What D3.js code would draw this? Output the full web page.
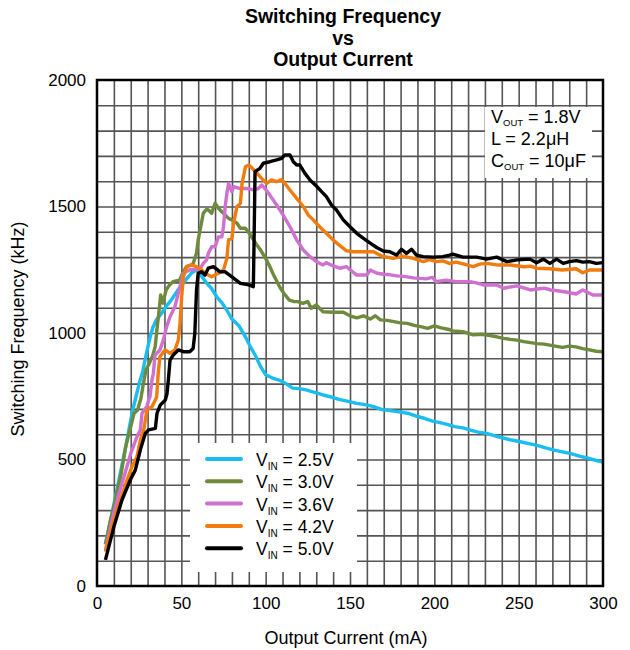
<!DOCTYPE html>
<html>
<head>
<meta charset="utf-8">
<script src="https://cdn.jsdelivr.net/npm/d3@7"></script>
<style>
  body { margin: 0; background: #fff; }
  svg { font-family: "Liberation Sans", Arial, sans-serif; }
</style>
</head>
<body>
<svg id="chart" width="630" height="650"></svg>
<script>
// ---- data ----
var xTicks = [0, 50, 100, 150, 200, 250, 300];
var yTicks = [0, 500, 1000, 1500, 2000];
var seriesNames = ["2.5V", "3.0V", "3.6V", "4.2V", "5.0V"];
var seriesColors = ["#19bdf0", "#6e8b3d", "#d070d0", "#f27b0e", "#000000"];

// [output current mA, switching frequency kHz]
var vin25 = [[5,165],[9,290],[13,420],[17,550],[21,690],[23,745],[25,800],[27,845],[29,910],[31,970],[33,1020],[35,1050],[38,1075],[41,1105],[44,1130],[48,1170],[52,1205],[56,1237],[59,1250],[62,1225],[65,1197],[68,1175],[71,1143],[74,1120],[77,1090],[80,1055],[84,1030],[88,985],[91,945],[94,910],[97,867],[100,835],[104,822],[108,814],[112,800],[116,782],[120,780],[124,775],[129,765],[134,755],[139,747],[144,737],[149,730],[154,722],[159,717],[164,709],[169,697],[174,693],[179,688],[184,683],[189,672],[194,663],[199,652],[204,645],[208,638],[212,630],[217,625],[222,615],[226,608],[231,603],[235,595],[239,588],[245,578],[251,570],[256,563],[261,556],[266,546],[271,537],[276,530],[281,523],[286,513],[290,507],[295,498],[300,490]];

var vin30 = [[5,165],[8,260],[10,313],[12,375],[14,432],[17,550],[20,630],[22,683],[24,695],[26,740],[27.5,800],[29,854],[31,880],[33,910],[34.5,946],[35.5,1012],[37,1100],[37.7,1150],[39,1118],[41,1170],[43,1190],[45,1203],[49,1209],[51,1240],[53,1262],[56,1269],[57,1275],[59,1315],[60,1368],[61.5,1420],[63,1473],[65,1490],[66,1486],[68,1473],[70,1513],[72,1493],[75,1473],[78,1453],[80,1447],[83,1434],[85,1414],[88,1414],[91,1387],[94,1355],[97,1328],[100,1295],[102.5,1262],[105,1225],[108.5,1180],[111,1155],[114,1130],[117,1124],[119,1124],[122,1117],[125,1124],[127,1098],[130,1111],[134,1084],[140,1082],[146,1082],[150,1068],[154,1060],[158,1068],[162,1055],[165,1068],[168,1052],[172,1050],[176,1045],[180,1040],[184,1038],[188,1030],[192,1025],[196,1018],[200,1028],[204,1020],[208,1015],[211,1008],[217,1005],[223,993],[228,995],[233,990],[237,985],[241,979],[245,975],[249,972],[253,966],[257,962],[261,958],[265,956],[270,950],[276,943],[280,948],[284,945],[288,938],[292,933],[296,928],[300,926]];

var vin36 = [[5,142],[9,261],[13,366],[16,432],[20,524],[23.7,590],[25.7,617],[26.7,683],[29.6,709],[30.6,735],[31.4,748],[32.6,814],[33.4,841],[34.4,913],[37.3,933],[39.3,972],[41.3,1025],[43.3,1064],[46.2,1104],[48.2,1157],[51.2,1236],[55,1250],[61,1252],[63,1275],[65,1289],[66,1315],[68,1341],[70,1341],[72,1380],[74,1380],[75,1420],[76,1500],[77,1552],[78,1591],[80,1558],[81,1578],[85,1571],[90,1571],[93,1565],[95.6,1571],[97.6,1585],[99.6,1571],[102.5,1545],[106.5,1506],[110.4,1466],[114.4,1420],[118.4,1368],[122.3,1328],[126.3,1302],[130.2,1282],[134,1269],[136,1278],[140,1265],[144,1256],[148,1262],[151,1245],[154,1229],[160,1229],[162,1249],[166,1236],[170,1232],[174,1230],[178,1226],[182,1224],[187.5,1218],[191,1216],[195,1214],[199,1220],[201,1203],[207,1209],[213,1203],[221,1203],[225,1198],[229,1190],[237,1190],[241,1177],[245,1182],[249,1186],[253,1178],[257,1170],[261,1174],[265,1177],[269,1170],[273,1167],[278,1162],[284,1154],[288,1170],[294,1150],[300,1150]];

var vin42 = [[5,136],[10,261],[13.8,340],[17.8,419],[20.7,471],[23.7,511],[25.7,577],[27.7,617],[29.6,696],[32.6,709],[34.6,735],[35.4,748],[36.3,841],[37.3,906],[40.3,933],[43.3,920],[46.2,933],[48.2,972],[49.2,1038],[50.2,1143],[51.2,1222],[53.2,1262],[56,1269],[59,1262],[61,1255],[65,1232],[68,1222],[72,1236],[75,1249],[77,1295],[78,1368],[80,1374],[81,1434],[83,1500],[85,1512],[86,1591],[88,1657],[90,1664],[92,1651],[95,1631],[97.6,1611],[100.6,1591],[103.5,1605],[106.5,1598],[109.5,1607],[111.4,1591],[114.4,1565],[118.4,1532],[122.3,1500],[125.3,1466],[128.2,1447],[132,1420],[136,1394],[140,1368],[144,1345],[148,1325],[152,1321],[158,1321],[164,1321],[168.8,1304],[172,1300],[175.6,1295],[181.6,1304],[187.5,1295],[193.4,1282],[197,1290],[201.3,1282],[205,1285],[209,1275],[213,1280],[217,1273],[223,1262],[227,1272],[231,1275],[237,1269],[245,1269],[253,1262],[257,1264],[260.6,1256],[268.5,1254],[276,1249],[284,1254],[288,1238],[292,1249],[300,1249]];

var vin50 = [[5,103],[10,234],[14.8,340],[19.7,419],[22.7,458],[25.7,538],[28.6,603],[30.6,617],[34.6,623],[35.6,683],[37.5,715],[40.5,735],[41.5,760],[42.3,814],[43.3,893],[45.2,913],[48.2,933],[51.2,926],[55,926],[57,939],[58,999],[59,1170],[60,1236],[62,1242],[64,1229],[66,1256],[69,1262],[73,1242],[76,1242],[80,1222],[85,1196],[90,1190],[92.7,1183],[93.2,1400],[93.7,1638],[96.6,1651],[98.6,1671],[102.5,1677],[106.5,1684],[109.5,1690],[111.4,1704],[114.4,1704],[116.4,1677],[118.4,1664],[120.3,1664],[123.3,1631],[126.3,1605],[130.2,1580],[133,1560],[136,1539],[139,1506],[142,1486],[146,1447],[150,1420],[154,1394],[158,1374],[162,1355],[165.8,1338],[169.7,1324],[173.6,1321],[177.6,1308],[180.5,1331],[183.5,1315],[186.5,1331],[189.4,1308],[193.4,1302],[199.3,1300],[205,1302],[209,1308],[211,1312],[217,1300],[225,1300],[231,1292],[237,1300],[243,1282],[249,1289],[256.7,1292],[260.6,1278],[264.6,1292],[268.5,1275],[272.5,1292],[276.4,1275],[280,1282],[284.3,1286],[288,1280],[292,1282],[296,1275],[300,1278]];

var allSeries = [vin25, vin30, vin36, vin42, vin50];

// ---- layout ----
var svg = d3.select("#chart");
var plotLeft = 97, plotRight = 603, plotTop = 80, plotBottom = 586;

var x = d3.scaleLinear().domain([0, 300]).range([plotLeft, plotRight]);
var y = d3.scaleLinear().domain([0, 2000]).range([plotBottom, plotTop]);

// grid every 10 mA / 100 kHz
svg.append("g")
  .attr("transform", "translate(0," + plotBottom + ")")
  .call(d3.axisBottom(x).tickValues(d3.range(10, 300, 10)).tickSize(-(plotBottom - plotTop)).tickFormat(""))
  .call(g => g.select(".domain").remove())
  .selectAll("line")
    .attr("stroke", "#555")
    .attr("stroke-width", 1.6);

svg.append("g")
  .attr("transform", "translate(" + plotLeft + ",0)")
  .call(d3.axisLeft(y).tickValues(d3.range(100, 2000, 100)).tickSize(-(plotRight - plotLeft)).tickFormat(""))
  .call(g => g.select(".domain").remove())
  .selectAll("line")
    .attr("stroke", "#555")
    .attr("stroke-width", 1.6);

// tick labels
var xAxis = svg.append("g")
  .attr("transform", "translate(0," + plotBottom + ")")
  .call(d3.axisBottom(x).tickValues(xTicks).tickSize(0).tickPadding(11).tickFormat(d3.format("d")));
xAxis.select(".domain").remove();
xAxis.selectAll("text").attr("font-size", 17).attr("fill", "#000")
  .attr("font-family", "Liberation Sans, Arial, sans-serif");

var yAxis = svg.append("g")
  .attr("transform", "translate(" + plotLeft + ",0)")
  .call(d3.axisLeft(y).tickValues(yTicks).tickSize(0).tickPadding(11).tickFormat(d3.format("d")));
yAxis.select(".domain").remove();
yAxis.selectAll("text").attr("font-size", 17).attr("fill", "#000")
  .attr("font-family", "Liberation Sans, Arial, sans-serif");

// curves
var line = d3.line().x(d => x(d[0])).y(d => y(d[1]));

svg.append("g").selectAll("path")
  .data(allSeries)
  .enter()
  .append("path")
    .attr("d", line)
    .attr("fill", "none")
    .attr("stroke", (d, i) => seriesColors[i])
    .attr("stroke-width", 3.4)
    .attr("stroke-linejoin", "round");

// frame
svg.append("rect")
  .attr("x", plotLeft).attr("y", plotTop)
  .attr("width", plotRight - plotLeft).attr("height", plotBottom - plotTop)
  .attr("fill", "none")
  .attr("stroke", "#000")
  .attr("stroke-width", 2.5);

// legend
var legend = svg.append("g");
legend.append("rect")
  .attr("x", 190).attr("y", 443)
  .attr("width", 167).attr("height", 129)
  .attr("fill", "#fff");

var legendRows = legend.selectAll(".leg")
  .data(seriesNames)
  .enter()
  .append("g")
    .classed("leg", true)
    .attr("transform", (d, i) => "translate(0," + (459 + i * 22.3) + ")");

legendRows.append("line")
  .attr("x1", 207).attr("x2", 241)
  .attr("stroke", (d, i) => seriesColors[i])
  .attr("stroke-width", 4)
  .attr("stroke-linecap", "round");

var legText = legendRows.append("text")
  .attr("x", 256).attr("y", 7)
  .attr("font-size", 17.5);
legText.append("tspan").text("V");
legText.append("tspan").text("IN").attr("font-size", 10).attr("dy", 4);
legText.append("tspan").text(d => " = " + d).attr("dy", -4);

// conditions box
var info = svg.append("g");
info.append("rect")
  .attr("x", 485).attr("y", 107)
  .attr("width", 107).attr("height", 71)
  .attr("fill", "#fff");

var t1 = info.append("text").attr("x", 491).attr("y", 123).attr("font-size", 18);
t1.append("tspan").text("V");
t1.append("tspan").text("OUT").attr("font-size", 9.5).attr("dy", 3);
t1.append("tspan").text(" = 1.8V").attr("dy", -3);

info.append("text").attr("x", 491).attr("y", 145).attr("font-size", 18)
  .text("L = 2.2\u03bcH");

var t3 = info.append("text").attr("x", 491).attr("y", 167).attr("font-size", 18);
t3.append("tspan").text("C");
t3.append("tspan").text("OUT").attr("font-size", 9.5).attr("dy", 3);
t3.append("tspan").text(" = 10\u03bcF").attr("dy", -3);

// titles
var titleLines = ["Switching Frequency", "vs", "Output Current"];
svg.append("g").selectAll("text")
  .data(titleLines)
  .enter()
  .append("text")
    .attr("x", 343)
    .attr("y", (d, i) => 23 + i * 21.5)
    .attr("text-anchor", "middle")
    .attr("font-size", 19.5)
    .attr("font-weight", "bold")
    .text(d => d);

svg.append("text")
  .attr("x", 346).attr("y", 644)
  .attr("text-anchor", "middle")
  .attr("font-size", 18)
  .text("Output Current (mA)");

svg.append("text")
  .attr("transform", "translate(24,329) rotate(-90)")
  .attr("text-anchor", "middle")
  .attr("font-size", 18)
  .text("Switching Frequency (kHz)");
</script>
</body>
</html>
